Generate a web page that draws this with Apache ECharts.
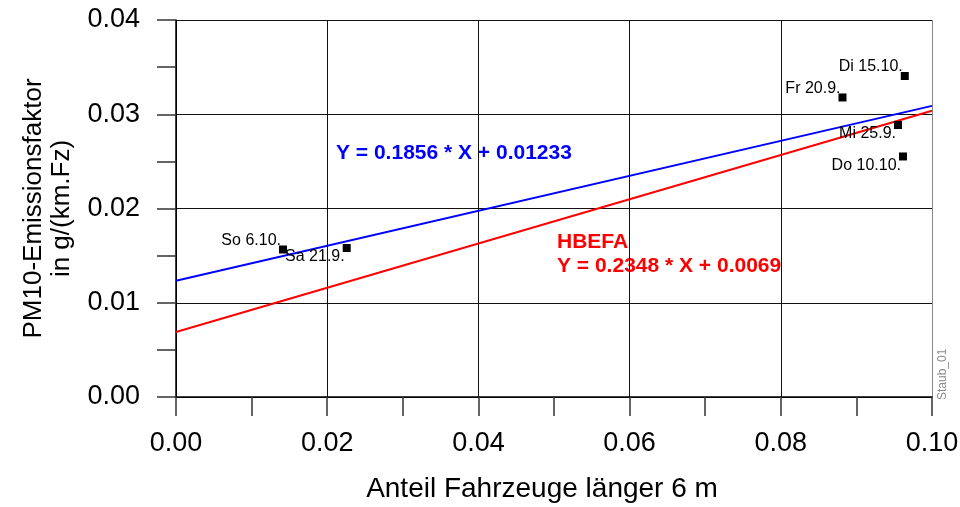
<!DOCTYPE html>
<html>
<head>
<meta charset="utf-8">
<script src="https://cdn.jsdelivr.net/npm/echarts@6/dist/echarts.min.js"></script>
<style>
  html, body { margin: 0; padding: 0; background: #fff; }
  #main { width: 960px; height: 507px; }
</style>
</head>
<body>
<div id="main"></div>
<script>
// measured days (Anteil Fahrzeuge > 6 m, PM10 factor)
var dayNames = ['So 6.10.', 'Sa 21.9.', 'Fr 20.9.', 'Di 15.10.', 'Mi 25.9.', 'Do 10.10.'];
var dayX = [0.01415, 0.02258, 0.08816, 0.0964, 0.0955, 0.09616];
var dayY = [0.01565, 0.01581, 0.03178, 0.03406, 0.02886, 0.02552];
var labelAbove = [true, false, true, true, false, false];

// regression line and HBEFA line end points
var fitLine = [[0, 0.01233], [0.1, 0.03089]];
var hbefaLine = [[0, 0.0069], [0.1, 0.03038]];

var xTicks = [0, 0.02, 0.04, 0.06, 0.08, 0.1];
var yTicks = [0, 0.01, 0.02, 0.03, 0.04];

var font = 'Liberation Sans, Arial, sans-serif';

var myChart = echarts.init(document.getElementById('main'));

var points = dayX.map(function (x, i) {
  return {
    value: [x, dayY[i]],
    name: dayNames[i],
    label: { position: labelAbove[i] ? [2, -5] : [2, 13] }
  };
});

myChart.setOption({
  animation: false,
  grid: { left: 176, right: 28, top: 20, bottom: 110, outerBoundsMode: 'none', containLabel: false },
  xAxis: {
    type: 'value',
    min: xTicks[0],
    max: xTicks[xTicks.length - 1],
    interval: 0.02,
    name: 'Anteil Fahrzeuge länger 6 m',
    nameLocation: 'middle',
    nameGap: 78,
    nameTextStyle: { fontFamily: font, fontSize: 28, color: '#000', padding: [0, 24, 0, 0] },
    axisLine: { lineStyle: { color: '#000', width: 1.5 } },
    axisTick: { length: 19, lineStyle: { color: '#333', width: 1.5 } },
    minorTick: { show: true, splitNumber: 2, length: 19, lineStyle: { color: '#333', width: 1.5 } },
    axisLabel: {
      margin: 33, fontFamily: font, fontSize: 27, color: '#000',
      formatter: function (v) { return v.toFixed(2); }
    },
    splitLine: { lineStyle: { color: ['#111', '#111', '#111', '#111', '#111', '#888'], width: 1 } }
  },
  yAxis: {
    type: 'value',
    min: yTicks[0],
    max: yTicks[yTicks.length - 1],
    interval: 0.01,
    name: 'PM10-Emissionsfaktor\nin g/(km.Fz)',
    nameLocation: 'middle',
    nameGap: 100,
    nameTextStyle: { fontFamily: font, fontSize: 26, color: '#000', lineHeight: 28 },
    axisLine: { lineStyle: { color: '#000', width: 1.5 } },
    axisTick: { length: 19, lineStyle: { color: '#333', width: 1.5 } },
    minorTick: { show: true, splitNumber: 2, length: 19, lineStyle: { color: '#333', width: 1.5 } },
    axisLabel: {
      margin: 36, fontFamily: font, fontSize: 27, color: '#000',
      formatter: function (v) { return v.toFixed(2); }
    },
    splitLine: { lineStyle: { color: '#111', width: 1 } }
  },
  series: [
    {
      type: 'line',
      data: fitLine,
      symbol: 'none',
      lineStyle: { color: '#0000ff', width: 2 },
      z: 3
    },
    {
      type: 'line',
      data: hbefaLine,
      symbol: 'none',
      lineStyle: { color: '#ff0000', width: 2 },
      z: 3
    },
    {
      type: 'scatter',
      data: points,
      symbol: 'rect',
      symbolSize: 8,
      itemStyle: { color: '#000', opacity: 1 },
      label: {
        show: true,
        formatter: '{b}',
        align: 'right',
        verticalAlign: 'middle',
        fontFamily: font,
        fontSize: 16,
        color: '#000'
      },
      z: 4
    }
  ],
  graphic: [
    {
      type: 'text', left: 336, top: 143,
      style: { text: 'Y = 0.1856 * X + 0.01233', fill: '#0000ff', font: 'bold 21px ' + font }
    },
    {
      type: 'text', left: 557, top: 232,
      style: { text: 'HBEFA', fill: '#ff0000', font: 'bold 21px ' + font }
    },
    {
      type: 'text', left: 557, top: 256,
      style: { text: 'Y = 0.2348 * X + 0.0069', fill: '#ff0000', font: 'bold 21px ' + font }
    },
    {
      type: 'text', x: 943, y: 400, rotation: Math.PI / 2,
      style: { text: 'Staub_01', fill: '#888', font: '12px ' + font, align: 'left', verticalAlign: 'middle' }
    }
  ]
});
</script>
</body>
</html>
